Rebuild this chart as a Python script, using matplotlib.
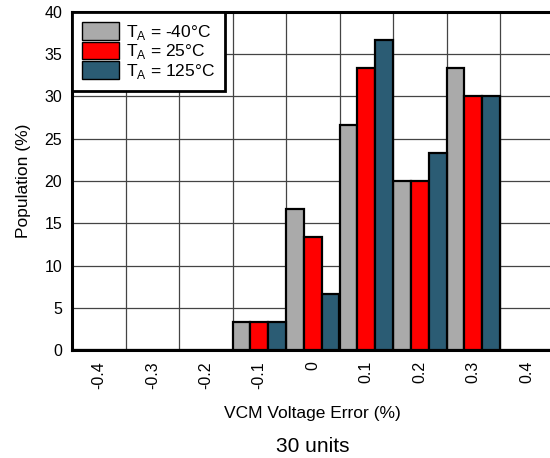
import numpy as np
import matplotlib
matplotlib.use("Agg")
import matplotlib.pyplot as plt

plt.rcParams['font.family'] = ['Liberation Sans', 'DejaVu Sans']

categories = ['-0.4', '-0.3', '-0.2', '-0.1', '0', '0.1', '0.2', '0.3', '0.4']
pop_m40 = [0, 0, 0, 3.33, 16.67, 26.67, 20.0, 33.33, 0]
pop_25 = [0, 0, 0, 3.33, 13.33, 33.33, 20.0, 30.0, 0]
pop_125 = [0, 0, 0, 3.33, 6.67, 36.67, 23.33, 30.0, 0]
labels = ['T$_\\mathregular{A}$ = -40°C', 'T$_\\mathregular{A}$ = 25°C', 'T$_\\mathregular{A}$ = 125°C']
colors = ['#AAAAAA', '#FF0000', '#2B5C74']

fig = plt.figure(figsize=(5.5, 4.58), dpi=100)
ax = fig.add_axes([72 / 550, 1 - 350 / 458, 481.5 / 550, 338 / 458])

x = np.arange(len(categories))
w = 1 / 3
for i, (vals, lab, c) in enumerate(zip([pop_m40, pop_25, pop_125], labels, colors)):
    ax.bar(x - 1 / 3 + i * w, vals, width=w, color=c, edgecolor='black',
           linewidth=1.6, label=lab, zorder=3)

ax.set_xlim(-0.5, len(categories) - 0.5)
ax.set_ylim(0, 40)
ax.set_yticks(range(0, 41, 5))
ax.set_xticks(x)
ax.set_xticklabels(categories, rotation=90)
ax.set_xticks(np.arange(-0.5, len(categories)), minor=True)
ax.tick_params(axis='both', which='both', length=0, labelsize=11.5, pad=7)
ax.tick_params(axis='x', pad=8)
ax.grid(True, which='minor', axis='x', color='#444444', linewidth=0.9, zorder=0)
ax.grid(True, which='major', axis='y', color='#444444', linewidth=0.9, zorder=0)

for s in ['left', 'bottom', 'top']:
    ax.spines[s].set_linewidth(2.2)
ax.spines['right'].set_visible(False)

ax.set_ylabel('Population (%)', fontsize=12.5, labelpad=10)
ax.set_xlabel('VCM Voltage Error (%)', fontsize=12.5, labelpad=12)
fig.text(313 / 550, 1 - 446 / 458, '30 units', ha='center', va='center', fontsize=15)

leg = ax.legend(loc='upper left', fontsize=12.5, frameon=True, fancybox=False,
                borderaxespad=0.0, handlelength=2.1, handleheight=1.15,
                handletextpad=0.4, labelspacing=0.0, borderpad=0.6)
leg.get_frame().set_edgecolor('black')
leg.get_frame().set_linewidth(2.0)
leg.get_frame().set_alpha(1)
for p in leg.get_patches():
    p.set_linewidth(1.0)

fig.savefig('out.png', dpi=100)
